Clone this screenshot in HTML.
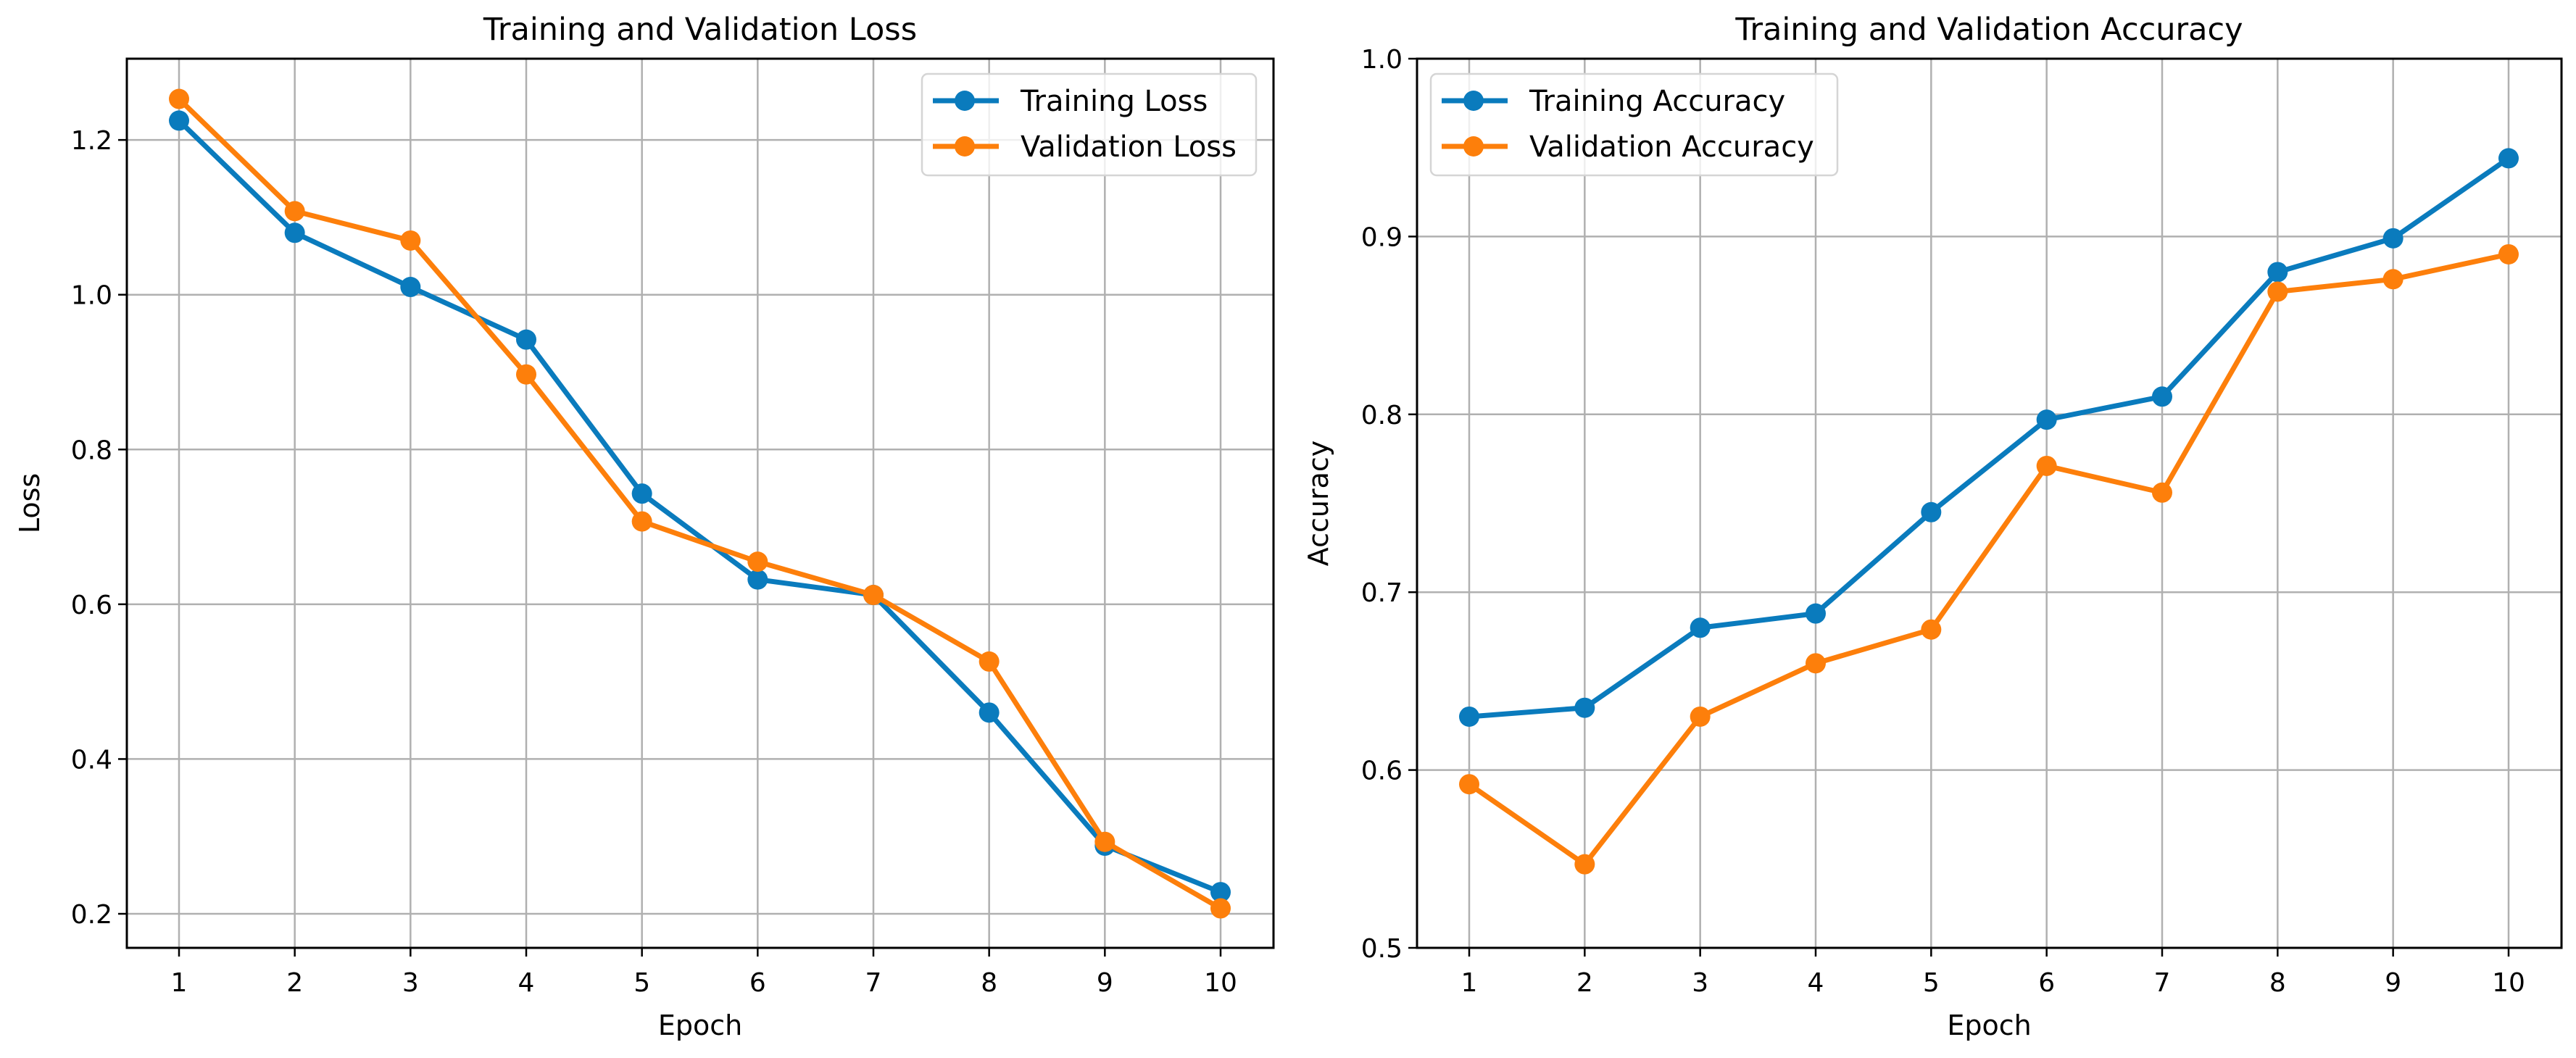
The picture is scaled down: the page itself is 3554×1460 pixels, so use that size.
<!DOCTYPE html>
<html><head><meta charset="utf-8"><style>
html,body{margin:0;padding:0;background:#fff;}
svg{display:block;font-family:"DejaVu Sans","Liberation Sans",sans-serif;}
</style></head><body>
<svg id="fig" width="3554" height="1460" viewBox="0 0 3554 1460" xmlns="http://www.w3.org/2000/svg"></svg>
<script>
const epochs = [1,2,3,4,5,6,7,8,9,10];
const trainLoss = [1.225,1.080,1.010,0.942,0.743,0.632,0.612,0.460,0.288,0.228];
const valLoss = [1.253,1.108,1.070,0.897,0.707,0.655,0.612,0.526,0.293,0.207];
const trainAcc = [0.630,0.635,0.680,0.688,0.745,0.797,0.810,0.880,0.899,0.944];
const valAcc = [0.592,0.547,0.630,0.660,0.679,0.771,0.756,0.869,0.876,0.890];
const lossTicks = [0.2,0.4,0.6,0.8,1.0,1.2];
const accTicks = [0.5,0.6,0.7,0.8,0.9,1.0];

const NS="http://www.w3.org/2000/svg";
const svg=document.getElementById('fig');
const BLUE="#0a7bbd", ORANGE="#fd7f0b";
function mk(tag,attrs,parent){const e=document.createElementNS(NS,tag);for(const k in attrs)e.setAttribute(k,attrs[k]);(parent||svg).appendChild(e);return e;}

function panel(cfg){
  const g=mk('g',{});
  
  
  const L=cfg.left,R=cfg.right,T=81,B=1308;
  const x=v=>cfg.x1+(v-1)*(cfg.x10-cfg.x1)/9;
  const y=v=>B-(v-cfg.ymin)*(B-T)/(cfg.ymax-cfg.ymin);
  // grid
  epochs.forEach(e=>{const l=mk('line',{x1:x(e),x2:x(e),y1:T,y2:B,stroke:'#b0b0b0','stroke-width':2.5},g);
    });
  cfg.ticks.forEach(t=>{const l=mk('line',{x1:L,x2:R,y1:y(t),y2:y(t),stroke:'#b0b0b0','stroke-width':2.5},g);
    });
  // ticks + labels
  epochs.forEach(e=>{mk('line',{x1:x(e),x2:x(e),y1:B,y2:B+12,stroke:'#000','stroke-width':2.5},g);
    const t=mk('text',{x:x(e),y:1368,'font-size':36,'text-anchor':'middle',fill:'#000'},g);t.textContent=e;
    });
  cfg.ticks.forEach(v=>{mk('line',{x1:L-12,x2:L,y1:y(v),y2:y(v),stroke:'#000','stroke-width':2.5},g);
    const t=mk('text',{x:L-20,y:y(v)+13,'font-size':36,'text-anchor':'end',fill:'#000'},g);t.textContent=v.toFixed(1);
    });
  // series
  cfg.series.forEach(s=>{
    const sg=mk('g',{},g);
    
    
    mk('polyline',{points:s.data.map((v,i)=>x(epochs[i])+','+y(v)).join(' '),fill:'none',stroke:s.color,'stroke-width':7,'stroke-linejoin':'round'},sg);
    s.data.forEach((v,i)=>{const c=mk('circle',{cx:x(epochs[i]),cy:y(v),r:14,fill:s.color},sg);
      });
  });
  // frame
  const f=mk('rect',{x:L,y:T,width:R-L,height:B-T,fill:'none',stroke:'#000','stroke-width':3},g);
  
  // legend
  const lg=mk('g',{},g);
  
  
  mk('rect',{x:cfg.legX,y:102,width:cfg.legW,height:140,rx:8,fill:'rgba(255,255,255,0.8)',stroke:'#d5d5d5','stroke-width':2.5},lg);
  cfg.series.forEach((s,i)=>{const yy=139+i*63;
    const eg=mk('g',{},lg);
    
    
    mk('line',{x1:cfg.legX+15,x2:cfg.legX+106,y1:yy,y2:yy,stroke:s.color,'stroke-width':7},eg);
    mk('circle',{cx:cfg.legX+59,cy:yy,r:14,fill:s.color},eg);
    const t=mk('text',{x:cfg.legX+136,y:yy+14,'font-size':40,fill:'#000'},eg);t.textContent=s.label;});
  // titles
  const tt=mk('text',{x:(L+R)/2,y:55,'font-size':43,'text-anchor':'middle',fill:'#000'},g);tt.textContent=cfg.title;
  
  const xl=mk('text',{x:(L+R)/2,y:1428,'font-size':38,'text-anchor':'middle',fill:'#000'},g);xl.textContent='Epoch';
  
  const yl=mk('text',{x:0,y:0,'font-size':38,'text-anchor':'middle',fill:'#000',transform:`translate(${cfg.ylabX},${(T+B)/2}) rotate(-90)`},g);yl.textContent=cfg.ylabel;
  
}
panel({name:'loss-chart',left:175,right:1757,x1:247,x10:1684,ymin:0.156,ymax:1.305,ticks:lossTicks,
  title:'Training and Validation Loss',ylabel:'Loss',ylabX:54,legX:1272,legW:461,
  series:[{id:'training-loss-line',label:'Training Loss',color:BLUE,data:trainLoss},{id:'validation-loss-line',label:'Validation Loss',color:ORANGE,data:valLoss}]});
panel({name:'accuracy-chart',left:1955,right:3534,x1:2027,x10:3461,ymin:0.5,ymax:1.0,ticks:accTicks,
  title:'Training and Validation Accuracy',ylabel:'Accuracy',ylabX:1832,legX:1974,legW:561,
  series:[{id:'training-accuracy-line',label:'Training Accuracy',color:BLUE,data:trainAcc},{id:'validation-accuracy-line',label:'Validation Accuracy',color:ORANGE,data:valAcc}]});
</script>
</body></html>
